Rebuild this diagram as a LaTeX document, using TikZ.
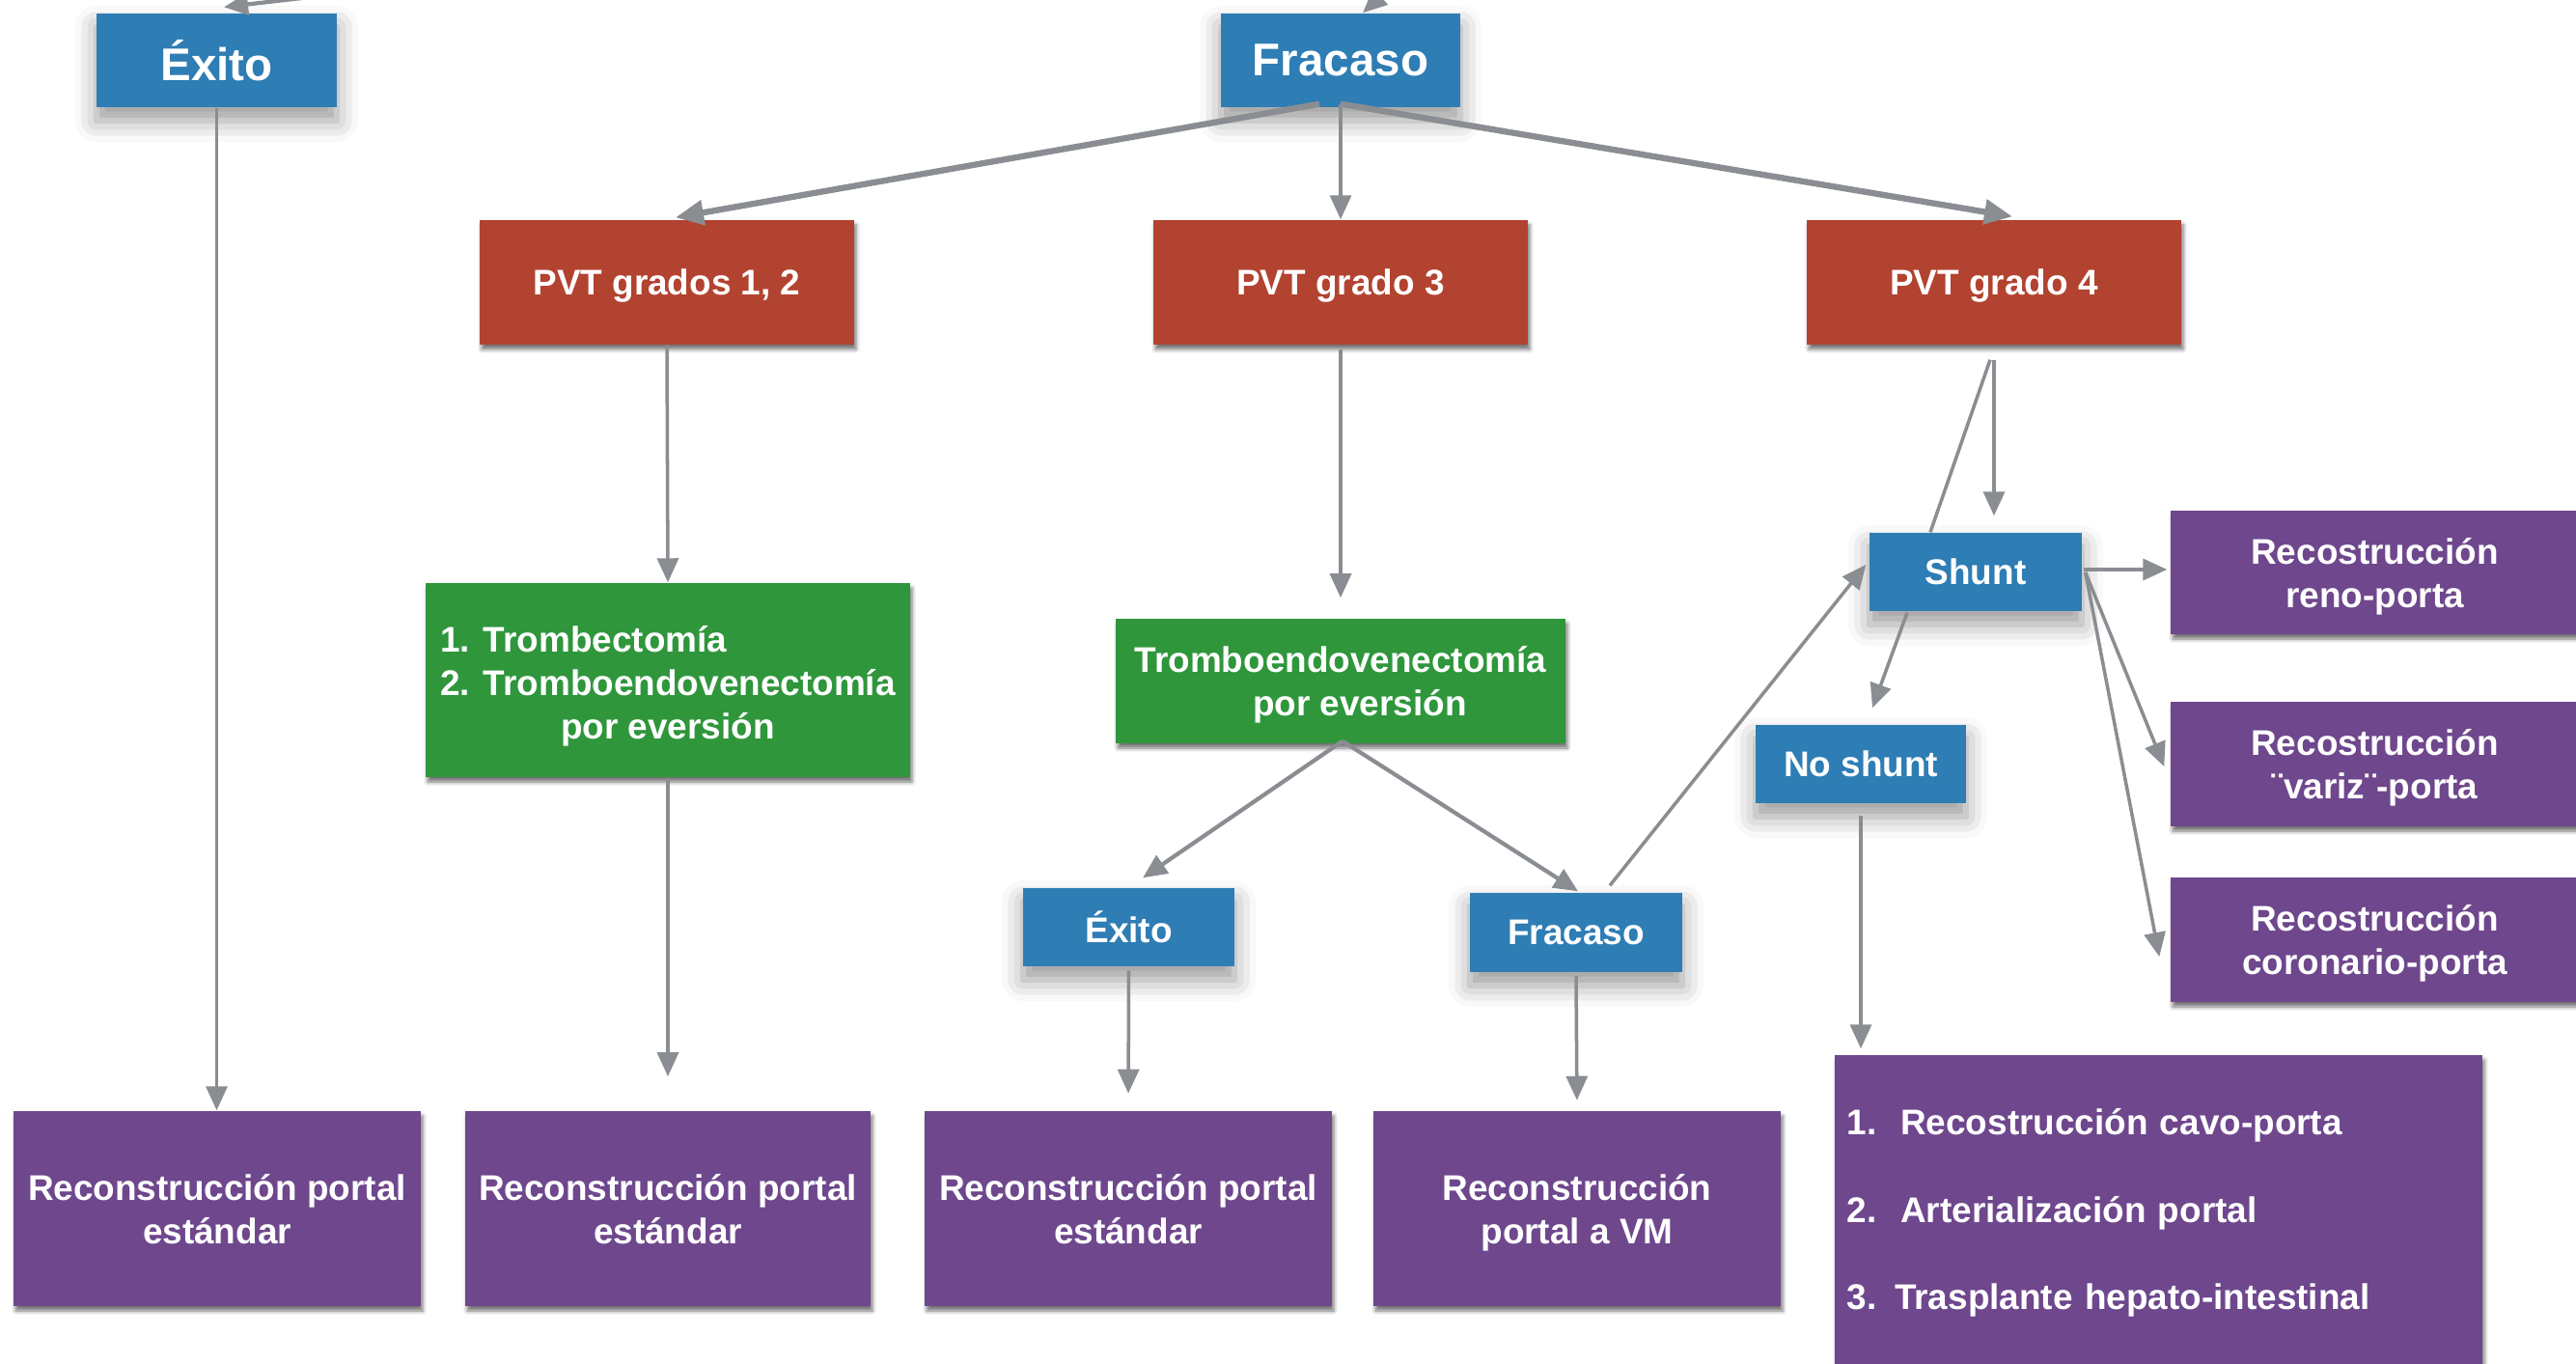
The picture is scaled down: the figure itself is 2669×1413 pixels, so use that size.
\documentclass[tikz,border=0pt]{standalone}
\usepackage{fontspec}
\setmainfont{Liberation Sans}
\usetikzlibrary{arrows.meta,calc,shadows.blur}

\definecolor{boxblue}{RGB}{46,125,180}
\definecolor{boxred}{RGB}{178,67,48}
\definecolor{boxgreen}{RGB}{47,150,60}
\definecolor{boxpurple}{RGB}{110,71,141}
\definecolor{linkgray}{RGB}{138,141,145}

\tikzset{
  sz/.style 2 args={minimum width=#1*0.01cm, minimum height=#2*0.01cm},
  card/.style={rectangle, inner sep=0pt, text=white, align=center, text depth=0pt,
    font=\bfseries\fontsize{10.5}{12.8}\selectfont},
  softshadow/.style={blur shadow={shadow xshift=0cm, shadow yshift=-0.14cm,
    shadow blur radius=0.22cm, shadow opacity=40}},
  hardshadow/.style={blur shadow={shadow xshift=0.02cm, shadow yshift=-0.05cm,
    shadow blur radius=0.04cm, shadow opacity=55}},
  bluecard/.style={card, fill=boxblue, softshadow},
  redcard/.style={card, fill=boxred, hardshadow},
  greencard/.style={card, fill=boxgreen, hardshadow},
  purplecard/.style={card, fill=boxpurple, hardshadow},
  link/.style={draw=linkgray, line width=1pt,
    -{Triangle[length=0.25cm,width=0.22cm]}},
  thinlink/.style={draw=linkgray, line width=1pt},
  boldlink/.style={link, line width=1.8pt, -{Triangle[length=0.29cm,width=0.25cm]}},
  midlink/.style={link, line width=1.2pt},
}

\begin{document}
\begin{tikzpicture}[x=0.01cm, y=-0.01cm]
\useasboundingbox (0,0) rectangle (2669,1413);

% outcome boxes at the top
\node[bluecard, sz={249}{97}, font=\bfseries\fontsize{13.5}{16}\selectfont] (exitoA) at (224.5,62.5) {Éxito};
\node[bluecard, sz={248}{97}, font=\bfseries\fontsize{13.5}{16}\selectfont] (fracA) at (1389,62.5) {Fracaso};

% PVT grades
\node[redcard, sz={388}{129}] (pvt12) at (691,292.5) {PVT grados 1, 2};
\node[redcard, sz={388}{129}] (pvt3) at (1389,292.5) {PVT grado 3};
\node[redcard, sz={388}{129}] (pvt4) at (2066,292.5) {PVT grado 4};

% procedures
\node[greencard, sz={502}{201}] (trA) at (692,704.5)
  {\begin{tabular}[b]{@{}l@{}}1. Trombectomía\\2. Tromboendovenectomía\\\multicolumn{1}{@{}c@{}}{por eversión}\end{tabular}};
\node[greencard, sz={466}{129}] (trB) at (1389,705.5)
  {Tromboendovenectomía\\\hspace*{0.4cm}por eversión};

% intermediate outcomes
\node[bluecard, sz={219}{81}] (exitoB) at (1169.5,960.5) {Éxito};
\node[bluecard, sz={220}{82}] (fracB) at (1633,966) {Fracaso};
\node[bluecard, sz={220}{81}] (shunt) at (2047,592.5) {Shunt};
\node[bluecard, sz={218}{81}] (noshunt) at (1928,791.5) {No shunt};

% shunt reconstructions
\node[purplecard, sz={423}{128}] (reno) at (2460.5,593) {Recostrucción\\reno-porta};
\node[purplecard, sz={423}{129}] (variz) at (2460.5,791.5) {Recostrucción\\¨variz¨-porta};
\node[purplecard, sz={423}{129}] (coron) at (2460.5,973.5) {Recostrucción\\coronario-porta};

% options without shunt
\node[purplecard, sz={671}{327}, align=left, text width=6.45cm, text depth=,
  font=\bfseries\fontsize{10.5}{25.7}\selectfont] (big) at (2236.5,1256.5)
  {1.\ \ Recostrucción cavo-porta\\2.\ \ Arterialización portal\\3. Trasplante hepato-intestinal};

% final reconstructions
\node[purplecard, sz={422}{202}] (rA) at (225,1252) {Reconstrucción portal\\estándar};
\node[purplecard, sz={420}{202}] (rB) at (692,1252) {Reconstrucción portal\\estándar};
\node[purplecard, sz={422}{202}] (rC) at (1169,1252) {Reconstrucción portal\\estándar};
\node[purplecard, sz={422}{202}] (rD) at (1634,1252) {Reconstrucción\\portal a VM};

% incoming connectors from above
\coordinate (inA) at (400,-12);
\coordinate (inB) at (1470,-40);
\draw[midlink] (inA) -- ([shift={(7.5,-6)}]exitoA.north);
\draw[midlink] (inB) -- ([shift={(23,0)}]fracA.north);

% connectors
\draw[link] (exitoA.south) -- (exitoA.south |- rA.north);

\draw[boldlink] ([shift={(-22,-4)}]fracA.south) -- ([shift={(9,-2)}]pvt12.north);
\draw[link] ([shift={(0,-4)}]fracA.south) -- (pvt3.north);
\draw[boldlink] ([shift={(0,-4)}]fracA.south) -- ([shift={(19,-3)}]pvt4.north);

\draw[link] (pvt12.south) -- (trA.north);
\draw[link, shorten >=10\pgflinewidth] (trA.south) -- (rB.north);

\draw[link, shorten >=6] ([shift={(0,4)}]pvt3.south) -- (trB.north);
\draw[midlink, shorten >=5] ([shift={(2,-3)}]trB.south) -- (exitoB.north);
\draw[midlink] ([shift={(2,-3)}]trB.south) -- ([shift={(2,-1)}]fracB.north);
\draw[link, shorten >=5] ([shift={(0,4)}]exitoB.south) -- (rC.north);
\draw[link, shorten >=3] ([shift={(0,3)}]fracB.south) -- (rD.north);

\draw[link] ([shift={(35,-7)}]fracB.north) -- ([shift={(-3,-7.5)}]shunt.west);
\draw[link] ([shift={(0,15)}]pvt4.south) -- ([shift={(19,-17)}]shunt.north);
\draw[thinlink] ([shift={(-4,15)}]pvt4.south) -- ([shift={(-47,0)}]shunt.north);

\draw[link] ([shift={(-71,1)}]shunt.south) -- ([shift={(12,-17)}]noshunt.north);
\draw[link] ([shift={(1,-2.5)}]shunt.east) -- ([shift={(-3,-3)}]reno.west);
\draw[link] ([shift={(3,0.5)}]shunt.east) -- ([shift={(-6,2.5)}]variz.west);
\draw[link] ([shift={(3,0.5)}]shunt.east) -- ([shift={(-11,17.5)}]coron.west);

\draw[link] ([shift={(0,12)}]noshunt.south) -- ($(noshunt.south |- big.north)+(0,-6)$);
\end{tikzpicture}
\end{document}
